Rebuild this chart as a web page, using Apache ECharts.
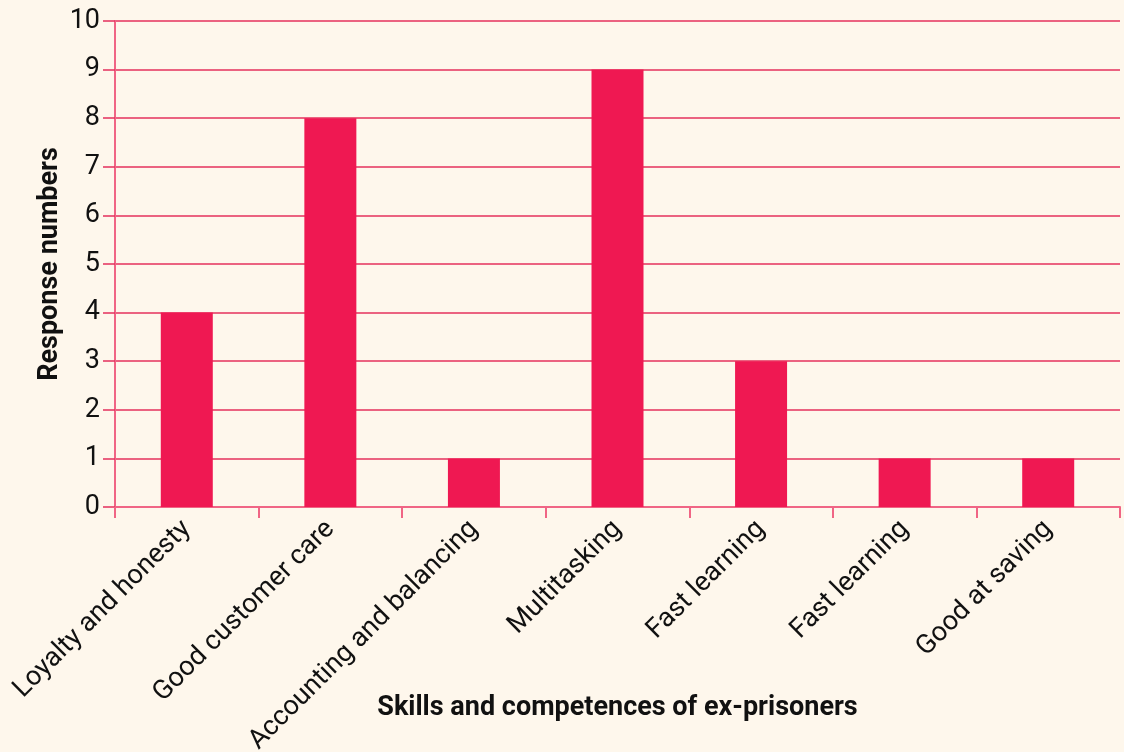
<!DOCTYPE html>
<html>
<head>
<meta charset="utf-8">
<script src="https://cdn.jsdelivr.net/npm/echarts@6/dist/echarts.min.js"></script>
<style>
  html, body { margin: 0; padding: 0; background: #fef7ec; }
  #chart { width: 1124px; height: 752px; }
</style>
</head>
<body>
<div id="chart"></div>
<script>
var categories = ["Loyalty and honesty", "Good customer care", "Accounting and balancing",
  "Multitasking", "Fast learning", "Fast learning", "Good at saving"];
var responses = [4, 8, 1, 9, 3, 1, 1];
var yTicks = { min: 0, max: 10, interval: 1 };

var chart = echarts.init(document.getElementById("chart"));

chart.setOption({
  backgroundColor: "#fef7ec",
  textStyle: { fontFamily: "Roboto" },
  grid: { left: 115, right: 4, top: 21, bottom: 245, containLabel: false, outerBoundsMode: "none" },
  xAxis: {
    type: "category",
    data: categories,
    name: "Skills and competences of ex-prisoners",
    nameLocation: "middle",
    nameGap: 188,
    nameMoveOverlap: false,
    nameTextStyle: { fontSize: 27, fontWeight: "bold", color: "#111" },
    axisLine: { lineStyle: { color: "#f06585", width: 2 } },
    axisTick: { show: true, length: 11, lineStyle: { color: "#f06585", width: 2 } },
    axisLabel: { rotate: 45, fontSize: 27, color: "#111", margin: 18, interval: 0 }
  },
  yAxis: {
    type: "value",
    min: yTicks.min,
    max: yTicks.max,
    interval: yTicks.interval,
    name: "Response numbers",
    nameLocation: "middle",
    nameGap: 51,
    nameMoveOverlap: false,
    nameTextStyle: { fontSize: 27, fontWeight: "bold", color: "#111" },
    axisLine: { show: true, lineStyle: { color: "#f06585", width: 2 } },
    axisTick: { show: true, length: 12, lineStyle: { color: "#e4305c", width: 1.5 } },
    axisLabel: { fontSize: 27, color: "#111", margin: 15 },
    splitLine: { lineStyle: { color: "#e4305c", width: 1.5 } }
  },
  series: [{
    type: "bar",
    data: responses,
    barWidth: 52,
    itemStyle: { color: "#ef1852" }
  }]
});
</script>
</body>
</html>
